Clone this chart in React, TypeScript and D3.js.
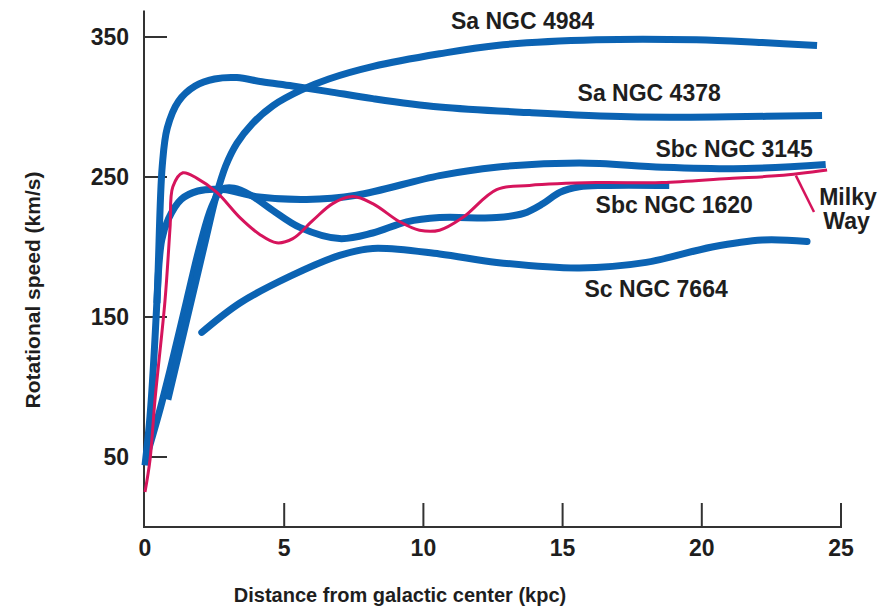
import React from 'react';
import * as d3 from 'd3';

const W = 886;
const H = 609;

// axis ticks
const xTicks = [0, 5, 10, 15, 20, 25];
const yTicks = [50, 150, 250, 350];

// rotation curves: distance (kpc) and speed (km/s)
const n4984D = [0.82, 1.5, 2.2, 2.55, 2.9, 3.3, 3.85, 4.6, 5.6, 6.6, 8.2, 10.58, 12.63, 16.21, 19.8, 22.17, 24.14];
const n4984V = [91, 148, 207, 236, 258, 274, 288, 301, 312, 320, 329, 338, 344, 348, 348, 346, 344];

const n4378D = [0.0, 0.18, 0.43, 0.62, 0.8, 1.2, 1.8, 2.5, 3.3, 4.2, 5.3, 6.6, 8.18, 10.58, 13.81, 17.4, 20.98, 24.32];
const n4378V = [44, 79, 162, 258, 285, 304, 315, 320, 321, 318, 315, 311, 306, 300, 296, 293, 293, 294];

const n3145D = [0.43, 0.6, 0.84, 1.3, 1.9, 2.81, 4.0, 5.8, 7.59, 10.58, 12.61, 15.6, 18.59, 21.58, 24.45];
const n3145V = [160, 205, 220, 234, 240, 241, 236, 234, 237, 251, 257, 260, 257, 256, 259];

const n1620D = [0.05, 0.54, 0.9, 1.5, 2.0, 2.4, 2.75, 3.2, 3.8, 4.6, 5.56, 6.99, 8.18, 9.4, 10.58, 12.63, 13.6, 14.3, 14.9, 15.6, 16.5, 18.83];
const n1620V = [50, 84, 112, 162, 203, 229, 241, 242, 237, 226, 214, 206, 210, 218, 221, 221, 224, 231, 239, 243, 244, 244];

const n7664D = [2.04, 3.41, 5.2, 6.99, 8.18, 10.58, 12.63, 15.6, 18.0, 20.37, 22.17, 23.78];
const n7664V = [139, 160, 179, 194, 199, 195, 189, 185, 189, 200, 205, 204];

const milkyD = [0.0, 0.18, 0.36, 0.72, 0.9, 1.0, 1.36, 1.87, 2.58, 3.41, 4.12, 4.73, 5.31, 6.03, 6.74, 7.46, 8.18, 9.15, 9.86, 10.58, 11.41, 12.63, 13.81, 16.21, 18.58, 20.98, 22.78, 24.5];
const milkyV = [25, 48, 91, 162, 214, 243, 253, 249, 239, 221, 209, 203, 206, 219, 231, 236, 231, 218, 212, 212, 221, 241, 244, 246, 246, 249, 251, 255];

// labels (text, anchor distance, anchor speed at baseline)
const labelTexts = ['Sa NGC 4984', 'Sa NGC 4378', 'Sbc NGC 3145', 'Sbc NGC 1620', 'Sc NGC 7664', 'Milky', 'Way'];
const labelD = [13.56, 18.11, 21.16, 19.01, 18.36, 25.25, 25.2];
const labelV = [356, 304, 264, 224, 164, 230, 213];

// pointer from Milky Way label to its curve
const pointerD = [23.38, 24.03];
const pointerV = [251, 225];

const BLUE = '#0b63b3';
const RED = '#d6145c';
const AXIS = '#333333';
const TEXT = '#1e1e1e';
const FONT = '"Liberation Sans", Arial, Helvetica, sans-serif';

const zip = (a: number[], b: number[]) => a.map((d, i) => [d, b[i]] as [number, number]);

export default function App() {
  const x = d3.scaleLinear().domain([0, 25]).range([145, 841]);
  const y = d3.scaleLinear().domain([0, 350]).range([527, 37]);

  const line = d3
    .line<[number, number]>()
    .x((d) => x(d[0]))
    .y((d) => y(d[1]))
    .curve(d3.curveCatmullRom.alpha(0.5));

  const blueSeries = [
    { d: zip(n4378D, n4378V), cap: 'butt' },
    { d: zip(n3145D, n3145V), cap: 'butt' },
    { d: zip(n1620D, n1620V), cap: 'butt' },
    { d: zip(n4984D, n4984V), cap: 'butt' },
    { d: zip(n7664D, n7664V), cap: 'round' },
  ];

  const x0 = x(0);
  const y0 = y(0);

  return (
    <svg
      width={W}
      height={H}
      style={{ position: 'absolute', left: 0, top: 0, background: '#fff' }}
      fontFamily={FONT}
    >
      <rect x={0} y={0} width={W} height={H} fill="#fff" />
      {/* axes */}
      <line x1={x0 - 1} x2={x0 - 1} y1={y(369)} y2={y0 + 1} stroke={AXIS} strokeWidth={2} />
      <line x1={x0 - 2} x2={x(25) + 1} y1={y0} y2={y0} stroke={AXIS} strokeWidth={2} />
      {yTicks.map((t) => (
        <g key={'y' + t}>
          <line x1={x0} x2={x0 + 22} y1={y(t)} y2={y(t)} stroke={AXIS} strokeWidth={2} />
          <text
            x={x0 - 16}
            y={y(t)}
            textAnchor="end"
            dominantBaseline="central"
            fontSize={23}
            fontWeight="bold"
            fill={TEXT}
          >
            {t}
          </text>
        </g>
      ))}
      {xTicks.map((t) => (
        <g key={'x' + t}>
          {t > 0 && <line x1={x(t)} x2={x(t)} y1={y0} y2={y0 - 24} stroke={AXIS} strokeWidth={2} />}
          <text
            x={x(t)}
            y={y0 + 21}
            textAnchor="middle"
            dominantBaseline="central"
            fontSize={23}
            fontWeight="bold"
            fill={TEXT}
          >
            {t}
          </text>
        </g>
      ))}
      <text
        x={400}
        y={602}
        textAnchor="middle"
        fontSize={20}
        fontWeight="bold"
        fill={TEXT}
      >
        Distance from galactic center (kpc)
      </text>
      <text
        transform="translate(40,290) rotate(-90)"
        textAnchor="middle"
        fontSize={21}
        fontWeight="bold"
        fill={TEXT}
      >
        Rotational speed (km/s)
      </text>

      {/* curves */}
      {blueSeries.map((s, i) => (
        <path
          key={'b' + i}
          d={line(s.d) || ''}
          fill="none"
          stroke={BLUE}
          strokeWidth={7}
          strokeLinecap={s.cap as any}
          strokeLinejoin="round"
        />
      ))}
      <path d={line(zip(milkyD, milkyV)) || ''} fill="none" stroke={RED} strokeWidth={3} strokeLinejoin="round" />
      <line
        x1={x(pointerD[0])}
        y1={y(pointerV[0])}
        x2={x(pointerD[1])}
        y2={y(pointerV[1])}
        stroke={RED}
        strokeWidth={2.5}
      />

      {/* labels */}
      {labelTexts.map((t, i) => (
        <text
          key={'l' + i}
          x={x(labelD[i])}
          y={y(labelV[i])}
          textAnchor="middle"
          fontSize={23}
          fontWeight="bold"
          fill={TEXT}
        >
          {t}
        </text>
      ))}
    </svg>
  );
}
